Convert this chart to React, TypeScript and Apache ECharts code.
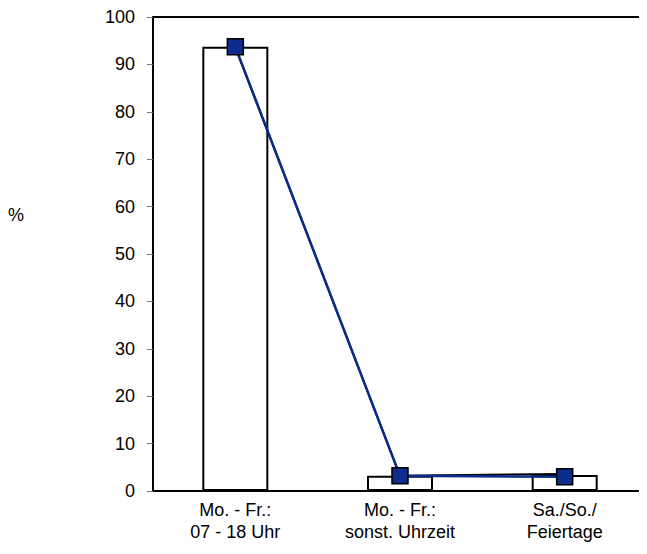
import React, { useEffect, useRef } from "react";
import * as echarts from "echarts";

const categories = ["Mo. - Fr.:\n07 - 18 Uhr", "Mo. - Fr.:\nsonst. Uhrzeit", "Sa./So./\nFeiertage"];
const barValues = [93.7, 3.2, 3.4];
const blueLineValues = [93.7, 3.2, 3.0];
const blackLineValues = [93.6, 3.2, 3.6];
const yTicks = { min: 0, max: 100, interval: 10 };
const yName = "%";

export default function App() {
  const ref = useRef<HTMLDivElement>(null);
  useEffect(() => {
    const chart = echarts.init(ref.current!, null, { renderer: "svg" });
    const font = "'Liberation Sans', Arial, sans-serif";
    chart.setOption({
      animation: false,
      backgroundColor: "#fff",
      grid: {
        left: 153,
        width: 500,
        top: 17,
        height: 474,
        show: true,
        borderColor: "#000",
        borderWidth: 2,
        containLabel: false,
      },
      graphic: [
        {
          type: "text",
          left: 8,
          top: 206,
          style: { text: yName, fontSize: 18, fontFamily: font, fill: "#000" },
        },
      ],
      xAxis: {
        type: "category",
        data: categories,
        axisLine: { lineStyle: { color: "#000", width: 2 } },
        axisTick: { show: false },
        axisLabel: {
          color: "#000",
          fontSize: 18,
          fontFamily: font,
          lineHeight: 22,
          margin: 8,
          interval: 0,
        },
      },
      yAxis: {
        type: "value",
        min: yTicks.min,
        max: yTicks.max,
        interval: yTicks.interval,
        splitLine: { show: false },
        axisLine: { show: true, lineStyle: { color: "#000", width: 2 } },
        axisTick: { show: true, length: 6, lineStyle: { color: "#777", width: 1 } },
        axisLabel: { color: "#000", fontSize: 18, fontFamily: font, margin: 18 },
      },
      series: [
        {
          type: "bar",
          data: barValues,
          barWidth: 66,
          itemStyle: { color: "#fff", borderColor: "#000", borderWidth: 2 },
          z: 1,
        },
        {
          type: "line",
          data: blackLineValues,
          symbol: "diamond",
          symbolSize: 12,
          lineStyle: { color: "#000", width: 2 },
          itemStyle: { color: "#000" },
          z: 2,
        },
        {
          type: "line",
          data: blueLineValues,
          symbol: "rect",
          symbolSize: 16,
          lineStyle: { color: "#0a2a8c", width: 2.5 },
          itemStyle: { color: "#0c2c8e", borderColor: "#000", borderWidth: 1.5 },
          z: 3,
        },
      ],
    });
    return () => chart.dispose();
  }, []);
  return <div ref={ref} style={{ width: 647, height: 554, margin: -8 }} />;
}
